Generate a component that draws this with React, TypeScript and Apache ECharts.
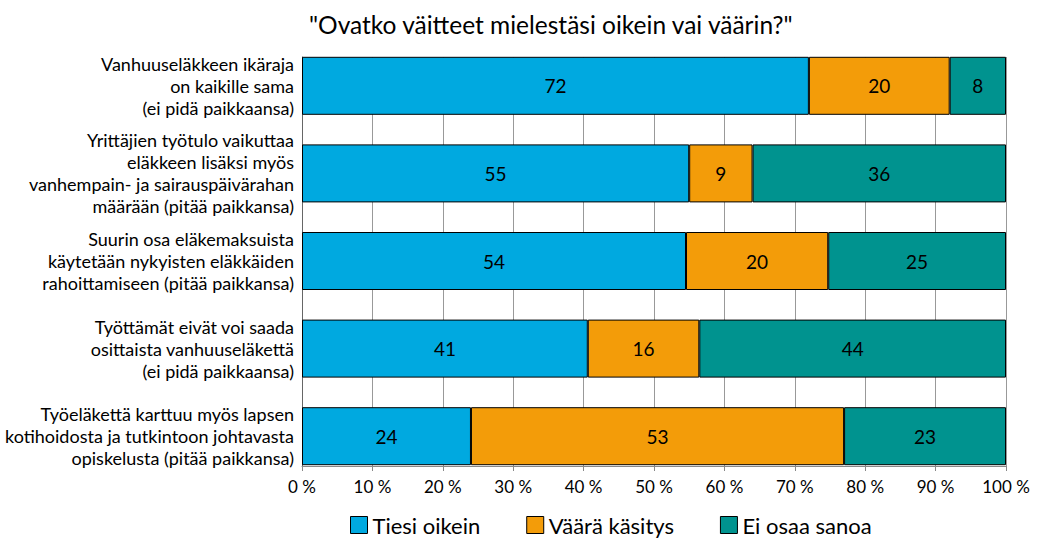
import React, { useEffect, useRef } from "react";
import * as echarts from "echarts";

const categories = [
  "Vanhuuseläkkeen ikäraja\non kaikille sama\n(ei pidä paikkaansa)",
  "Yrittäjien työtulo vaikuttaa\neläkkeen lisäksi myös\nvanhempain- ja sairauspäivärahan\nmäärään (pitää paikkansa)",
  "Suurin osa eläkemaksuista\nkäytetään nykyisten eläkkäiden\nrahoittamiseen (pitää paikkansa)",
  "Työttämät eivät voi saada\nosittaista vanhuuseläkettä\n(ei pidä paikkaansa)",
  "Työeläkettä karttuu myös lapsen\nkotihoidosta ja tutkintoon johtavasta\nopiskelusta (pitää paikkansa)",
];
const tiesiOikein = [72, 55, 54, 41, 24];
const vaaraKasitys = [20, 9, 20, 16, 53];
const eiOsaaSanoa = [8, 36, 25, 44, 23];
const seriesNames = ["Tiesi oikein", "Väärä käsitys", "Ei osaa sanoa"];
const colors = ["#00A9E0", "#F39C09", "#00938F"];

const FONT = "Lato";

export default function App() {
  const ref = useRef<HTMLDivElement>(null);
  useEffect(() => {
    document.body.style.margin = "0";
    if (!ref.current) return;
    const chart = echarts.init(ref.current, null, { renderer: "svg" });
    const datasets = [tiesiOikein, vaaraKasitys, eiOsaaSanoa];
    const totals = categories.map((_, j) => datasets.reduce((s, d) => s + d[j], 0));
    chart.setOption({
      animation: false,
      textStyle: { fontFamily: FONT },
      title: {
        text: '"Ovatko väitteet mielestäsi oikein vai väärin?"',
        left: 304,
        top: 7,
        textStyle: { fontFamily: FONT, fontSize: 24.5, fontWeight: "normal", color: "#000" },
      },
      legend: {
        top: 509,
        left: 345,
        itemWidth: 17,
        itemHeight: 17,
        itemGap: 46,
        icon: "rect",
        textStyle: { fontFamily: FONT, fontSize: 22, color: "#000" },
        data: seriesNames.map((n, i) => ({
          name: n,
          itemStyle: { color: colors[i], borderColor: "#000", borderWidth: 1 },
        })),
      },
      grid: [
        { left: 302, right: 40, top: 42, bottom: 59, containLabel: false },
        { left: 302, right: 40, top: 57, bottom: 73, containLabel: false },
      ],
      xAxis: [
        {
          gridIndex: 0,
          type: "value",
          min: 0,
          max: 100,
          interval: 10,
          show: false,
          splitLine: { show: false },
        },
        {
          gridIndex: 1,
          type: "value",
          min: 0,
          max: 100,
          interval: 10,
          axisLabel: { formatter: "{value} %", fontSize: 17, color: "#000", fontFamily: FONT, margin: 12 },
          splitLine: { show: true, lineStyle: { color: "#999", width: 1 } },
          axisLine: { show: true, lineStyle: { color: "#888" } },
          axisTick: { show: true, length: 5, lineStyle: { color: "#888" } },
        },
      ],
      yAxis: [
        {
          gridIndex: 0,
          type: "category",
          inverse: true,
          data: categories,
          axisLabel: { fontSize: 18, color: "#000", fontFamily: FONT, lineHeight: 22, align: "right", margin: 8 },
          axisLine: { show: false },
          axisTick: { show: false },
        },
        {
          gridIndex: 1,
          type: "value",
          min: 0,
          max: 1,
          axisLabel: { show: false },
          splitLine: { show: false },
          axisTick: { show: false },
          axisLine: { show: true, lineStyle: { color: "#666" } },
        },
      ],
      series: datasets.map((d, i) => ({
        name: seriesNames[i],
        type: "bar",
        stack: "total",
        xAxisIndex: 0,
        yAxisIndex: 0,
        data: d.map((v, j) => (v / totals[j]) * 100),
        barWidth: 58,
        itemStyle: { color: colors[i], borderColor: "#000", borderWidth: 1 },
        label: {
          show: true,
          position: "inside",
          fontSize: 19,
          color: "#000",
          fontFamily: FONT,
          formatter: (p: any) => String(datasets[p.seriesIndex][p.dataIndex]),
        },
      })),
    });
    return () => chart.dispose();
  }, []);
  return <div ref={ref} style={{ width: 1046, height: 539 }} />;
}
